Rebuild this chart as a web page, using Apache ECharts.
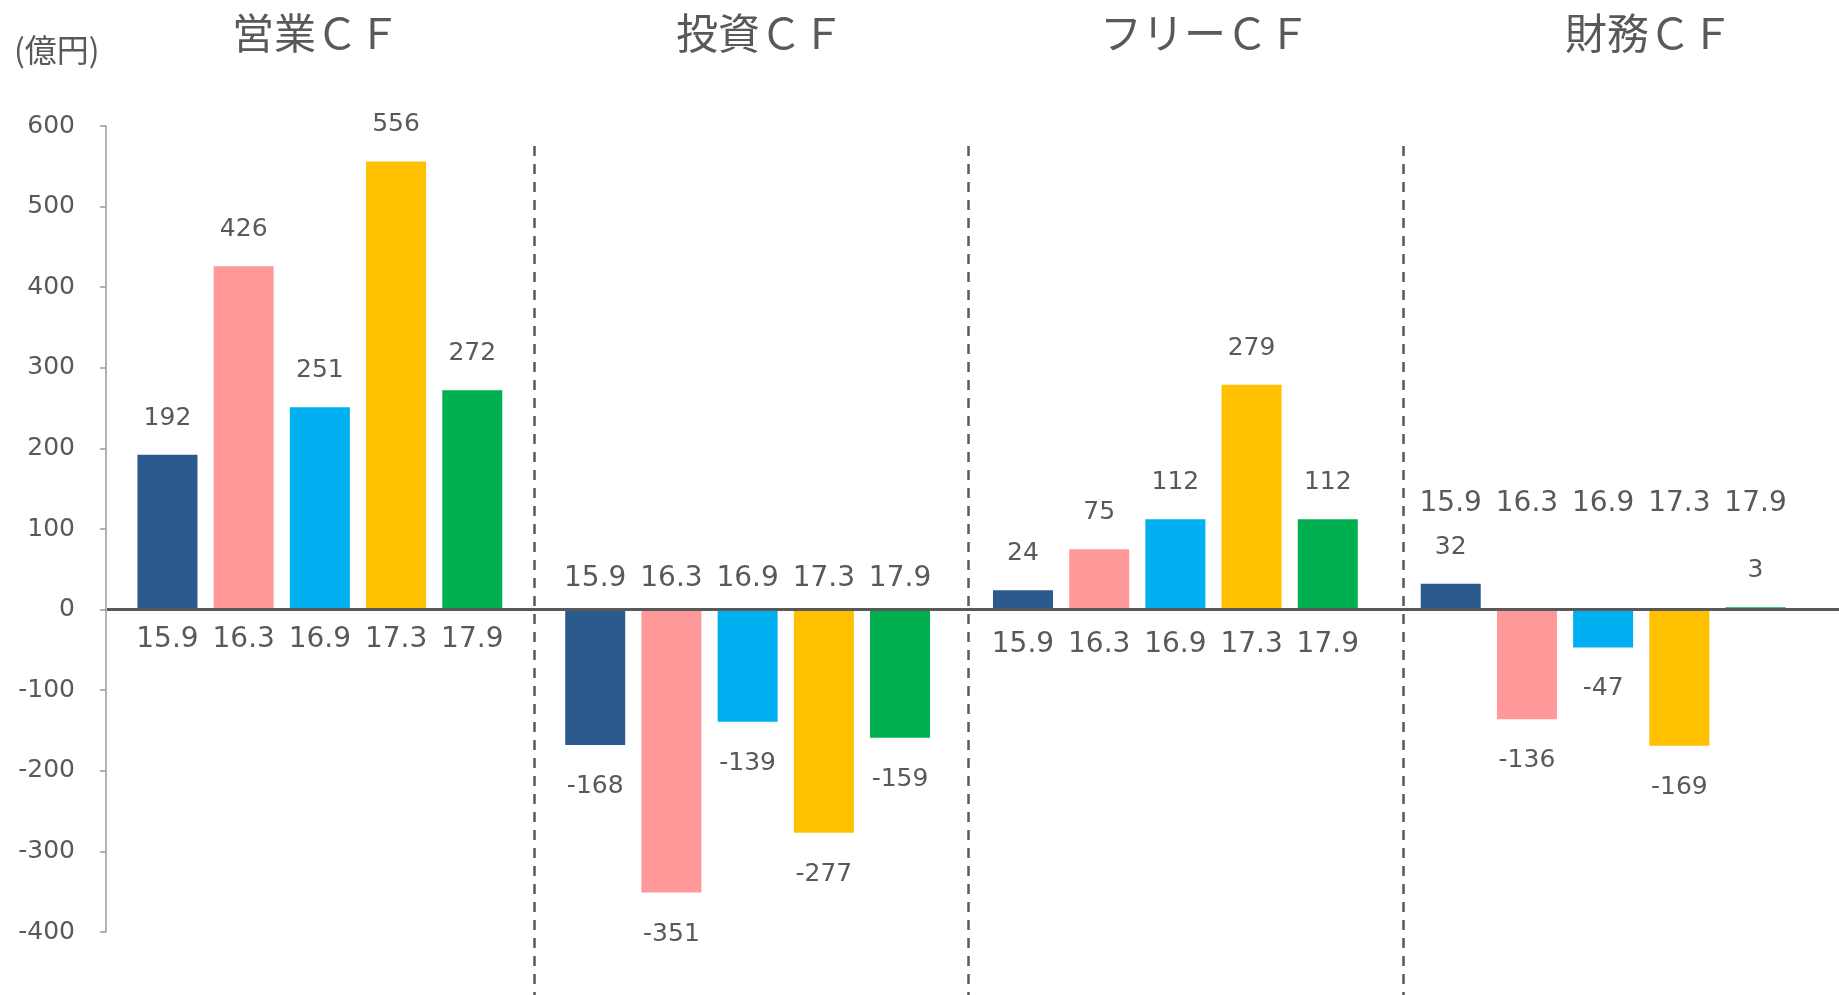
<!DOCTYPE html>
<html>
<head>
<meta charset="utf-8">
<script src="https://cdn.jsdelivr.net/npm/echarts@6/dist/echarts.min.js"></script>
<style>
  html, body { margin: 0; padding: 0; background: #fff; }
  #main { width: 1839px; height: 995px; }
</style>
</head>
<body>
<div id="main"></div>
<script>
// groups and periods
const groups = ["営業ＣＦ", "投資ＣＦ", "フリーＣＦ", "財務ＣＦ"];
const periods = ["15.9", "16.3", "16.9", "17.3", "17.9"];

// values per period, in group order
const v159 = [192, -168, 24, 32];
const v163 = [426, -351, 75, -136];
const v169 = [251, -139, 112, -47];
const v173 = [556, -277, 279, -169];
const v179 = [272, -159, 112, 3];
const periodValues = [v159, v163, v169, v173, v179];

const yMin = -400;
const yMax = 600;
const yStep = 100;

const colors = ["#2C5A8E", "#FF9999", "#00B0F0", "#FFC000", "#00B050"];
const textColor = "#595959";
const numFont = "DejaVu Sans";
const jpFont = "Noto Sans CJK JP";

// where the period labels sit around the zero line, per group
const periodSide = ["bottom", "top", "bottom", "top"];
const periodGap = [16, 17, 21, 92];

const chart = echarts.init(document.getElementById("main"));

const barSeries = periods.map((p, i) => ({
    name: p,
    type: "bar",
    xAxisIndex: 0,
    yAxisIndex: 0,
    barWidth: 60,
    barGap: "27%",
    itemStyle: { color: colors[i] },
    data: periodValues[i].map((v) => ({
        value: v,
        label: { position: v >= 0 ? "top" : "bottom", distance: v >= 0 ? 24 : 29 }
    })),
    label: {
        show: true,
        fontFamily: numFont,
        fontSize: 25,
        color: textColor
    }
}));

// transparent twins that carry the period names next to the zero line
const periodSeries = periods.map((p) => ({
    name: p + "_label",
    type: "bar",
    xAxisIndex: 1,
    yAxisIndex: 0,
    barWidth: 60,
    barGap: "27%",
    silent: true,
    itemStyle: { color: "rgba(0,0,0,0)" },
    data: groups.map((g, j) => ({
        value: 0,
        label: { position: periodSide[j], distance: periodGap[j] }
    })),
    label: {
        show: true,
        formatter: p,
        fontFamily: numFont,
        fontSize: 28,
        color: textColor
    }
}));

const titleLefts = [227, 671, 1095, 1560];

const option = {
    animation: false,
    backgroundColor: "#fff",
    title: [
        {
            text: "(億円)",
            left: 9,
            top: 29,
            textStyle: { fontFamily: jpFont, fontSize: 32, fontWeight: "normal", color: textColor }
        },
        ...groups.map((g, j) => ({
            text: g,
            left: titleLefts[j],
            top: 7,
            textStyle: { fontFamily: jpFont, fontSize: 42, fontWeight: "normal", color: textColor }
        }))
    ],
    grid: [
        { left: 106, right: 22, top: 126, bottom: 63 },
        { left: 99, right: 1, top: 146, bottom: 0 }
    ],
    xAxis: [
        {
            type: "category",
            gridIndex: 0,
            data: groups,
            axisLine: { show: false },
            axisTick: { show: false },
            axisLabel: { show: false }
        },
        {
            type: "category",
            gridIndex: 0,
            data: groups,
            show: false
        },
        {
            type: "value",
            gridIndex: 1,
            min: 0,
            max: 4,
            interval: 1,
            axisLine: { show: false },
            axisTick: { show: false },
            axisLabel: { show: false },
            splitLine: {
                show: true,
                showMinLine: false,
                showMaxLine: false,
                lineStyle: { color: textColor, width: 2.5, type: [10, 8] }
            }
        }
    ],
    yAxis: [
        {
            type: "value",
            gridIndex: 0,
            min: yMin,
            max: yMax,
            interval: yStep,
            axisLine: { show: true, lineStyle: { color: "#9A9A9A", width: 1.5 } },
            axisTick: { show: true, length: 6, lineStyle: { color: "#9A9A9A", width: 1.5 } },
            axisLabel: { margin: 31, fontFamily: numFont, fontSize: 25, color: textColor },
            splitLine: { show: false }
        },
        {
            type: "value",
            gridIndex: 1,
            min: 0,
            max: 1,
            axisLine: { show: false },
            axisTick: { show: false },
            axisLabel: { show: false },
            splitLine: { show: false }
        }
    ],
    series: [...barSeries, ...periodSeries]
};

chart.setOption(option);

// zero line across the whole width, placed through the value axis
const y0 = chart.convertToPixel({ yAxisIndex: 0 }, 0);
chart.setOption({
    graphic: [{
        type: "line",
        z: 100,
        shape: { x1: 107, y1: y0, x2: chart.getWidth(), y2: y0 },
        style: { stroke: textColor, lineWidth: 3 }
    }]
});
</script>
</body>
</html>
